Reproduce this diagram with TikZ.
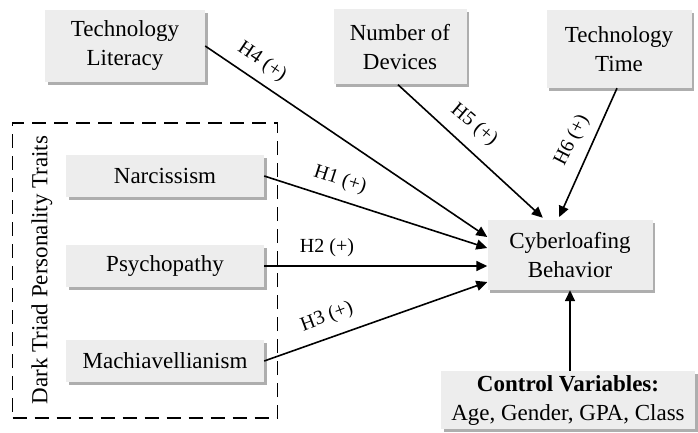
\documentclass[tikz,border=0pt]{standalone}
\usepackage{fontspec}
\setmainfont{Liberation Serif}
\usetikzlibrary{shadows,arrows.meta,calc}
\begin{document}
\begin{tikzpicture}[x=1pt,y=-1pt,
  box/.style={fill=black!7, align=center, font=\fontsize{23}{29}\selectfont, inner sep=0pt,
    drop shadow={shadow xshift=2.5pt, shadow yshift=-3pt, fill=black!45, opacity=0.7}},
  arr/.style={line width=1.6pt, -{Triangle[length=11pt,width=10pt]}},
  lab/.style={font=\fontsize{20}{22}\selectfont, inner sep=1pt}]
\useasboundingbox (0,0) rectangle (698,433);
% dashed group
\node[draw, line width=1.3pt, dash pattern=on 14pt off 8pt, minimum width=265pt, minimum height=295pt, inner sep=0pt] (dt) at (145,270.5) {};
\node[font=\fontsize{23}{26}\selectfont, rotate=90] (dl) at (42,270) {Dark Triad Personality Traits};
% boxes
\node[box, minimum width=160pt, minimum height=72pt] (tl) at (125,46) {Technology\\Literacy};
\node[box, minimum width=133pt, minimum height=75pt] (nd) at (400,47) {Number of\\Devices};
\node[box, minimum width=145pt, minimum height=78pt] (tt) at (619,49) {Technology\\Time};
\node[box, minimum width=198pt, minimum height=42pt] (na) at (165,176) {Narcissism};
\node[box, minimum width=198pt, minimum height=42pt] (ps) at (165,266) {Psychopathy};
\node[box, minimum width=198pt, minimum height=42pt] (ma) at (165,361) {Machiavellianism};
\node[box, minimum width=165pt, minimum height=70pt] (cy) at (570,255) {Cyberloafing\\Behavior};
\node[box, minimum width=254pt, minimum height=58pt] (cv) at (568,400) {\textbf{Control Variables:}\\Age, Gender, GPA, Class};
% connectors
\draw[arr] (tl.east) -- ([yshift=18pt]cy.west);
\draw[arr] (na.east) -- ([yshift=7pt]cy.west);
\draw[arr] (ps.east) -- (cy.west |- ps.east);
\draw[arr] (ma.east) -- ([yshift=-27pt]cy.west);
\draw[arr, shorten >=3pt] ([xshift=-2pt]nd.south) -- ([xshift=-25pt]cy.north);
\draw[arr, shorten >=3pt] ([xshift=-2pt]tt.south) -- ([xshift=-12pt]cy.north);
\draw[arr] (cv.north -| cy.south) -- (cy.south);
% labels
\node[lab, rotate=-34] (l4) at (262,62) {H4 (+)};
\node[lab, rotate=-18] (l1) at (340,180) {H1 (+)};
\node[lab] (l2) at (327,248) {H2 (+)};
\node[lab, rotate=20.6] (l3) at (327,317) {H3 (+)};
\node[lab, rotate=-40] (l5) at (474,125) {H5 (+)};
\node[lab, rotate=63] (l6) at (572,140) {H6 (+)};
\end{tikzpicture}
\end{document}
